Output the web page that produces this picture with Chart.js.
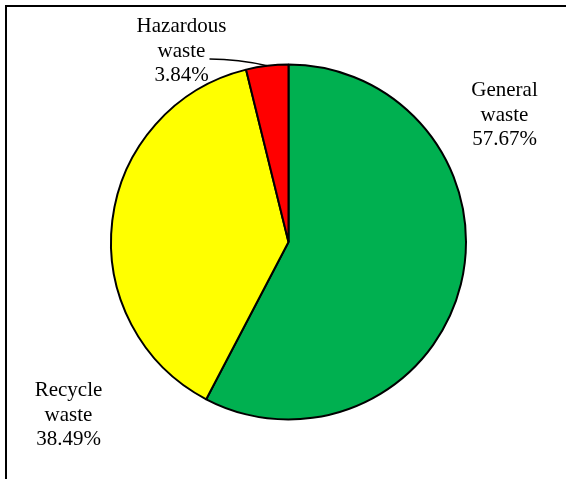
<!DOCTYPE html>
<html>
<head>
<meta charset="utf-8">
<script src="https://cdn.jsdelivr.net/npm/chart.js@4"></script>
<style>
  html, body { margin: 0; padding: 0; background: #fff; }
  #wasteChart { display: block; }
</style>
</head>
<body>
<canvas id="wasteChart" width="566" height="479"></canvas>
<script>
// waste composition (%)
const categories = ['General waste', 'Recycle waste', 'Hazardous waste'];
const shares = [57.67, 38.49, 3.84];
const sliceColors = ['#00B050', '#FFFF00', '#FF0000'];

// label anchor: offset of text centre / first baseline from pie centre (px)
const labelOffsets = [[216, -146], [-220, 154], [-107, -210]];

const frame = {
    id: 'frame',
    beforeDraw(chart) {
        const c = chart.ctx;
        c.save();
        c.fillStyle = '#fff';
        c.fillRect(0, 0, chart.width, chart.height);
        c.strokeStyle = '#000';
        c.lineWidth = 2;
        c.beginPath();
        c.moveTo(6, chart.height);
        c.lineTo(6, 6);
        c.lineTo(chart.width, 6);
        c.stroke();
        c.restore();
    }
};

const sliceLabels = {
    id: 'sliceLabels',
    afterDatasetsDraw(chart) {
        const c = chart.ctx;
        const arcs = chart.getDatasetMeta(0).data;
        c.save();
        c.font = '21px "Liberation Serif", "Times New Roman", serif';
        c.fillStyle = '#000';
        c.textAlign = 'center';
        c.textBaseline = 'alphabetic';
        arcs.forEach((arc, i) => {
            const lines = categories[i].split(' ');
            lines.push(shares[i].toFixed(2) + '%');
            const x = arc.x + labelOffsets[i][0];
            const y = arc.y + labelOffsets[i][1];
            lines.forEach((t, k) => c.fillText(t, x, y + k * 24.5));
        });

        // leader line for the small slice
        const a = arcs[2];
        const mid = (a.startAngle + a.endAngle) / 2;
        const ex = a.x + Math.cos(mid) * a.outerRadius;
        const ey = a.y + Math.sin(mid) * a.outerRadius;
        c.strokeStyle = '#000';
        c.lineWidth = 1.6;
        c.beginPath();
        c.moveTo(a.x - 79, a.y - 183);
        c.quadraticCurveTo(a.x - 50, a.y - 183, ex, ey);
        c.stroke();
        c.restore();
    }
};

new Chart(document.getElementById('wasteChart').getContext('2d'), {
    type: 'pie',
    data: {
        labels: categories,
        datasets: [{
            data: shares,
            backgroundColor: sliceColors,
            borderColor: '#000',
            borderWidth: 2
        }]
    },
    options: {
        responsive: false,
        animation: false,
        layout: { padding: { left: 110, right: 99, top: 63.5, bottom: 58.5 } },
        plugins: {
            legend: { display: false },
            tooltip: { enabled: false }
        }
    },
    plugins: [frame, sliceLabels]
});
</script>
</body>
</html>
